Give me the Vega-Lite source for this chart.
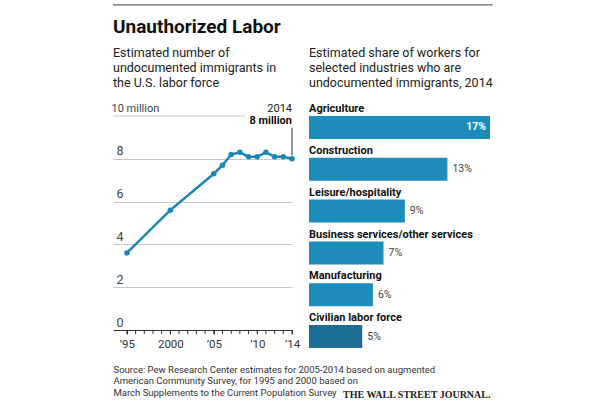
{
"$schema":"https://vega.github.io/schema/vega-lite/v6.json",
"background":"white",
"autosize":{"type":"pad"},
"padding":{"left":111,"top":4,"right":110,"bottom":0},
"bounds":"flush",
"spacing":17,
"config":{"view":{"stroke":null},"font":"Roboto","axisX":{"labelOverlap":false}},
"title":{"text":"Unauthorized Labor","anchor":"start","frame":"group","fontSize":19,"fontWeight":"bold","color":"#111","baseline":"alphabetic","offset":-48},
"hconcat":[
{
 "width":179,"height":232,
 "title":{"text":["Estimated number of","undocumented immigrants in","the U.S. labor force"],"anchor":"start","frame":"group","fontSize":12.5,"fontWeight":"normal","lineHeight":15,"color":"#222","offset":-85.5},
 "data":{"values":[
  {"year":1995,"millions":3.6},{"year":2000,"millions":5.6},{"year":2005,"millions":7.3},{"year":2006,"millions":7.7},
  {"year":2007,"millions":8.2},{"year":2008,"millions":8.3},{"year":2009,"millions":8.1},{"year":2010,"millions":8.1},
  {"year":2011,"millions":8.3},{"year":2012,"millions":8.1},{"year":2013,"millions":8.1},{"year":2014,"millions":8.0}
 ]},
 "layer":[
  {"transform":[{"filter":"datum.year==2014"}],
   "mark":{"type":"rule","color":"#444","strokeWidth":1},
   "encoding":{"x":{"datum":1993.4,"type":"quantitative"},"x2":{"datum":2037.1},"y":{"datum":15.19,"type":"quantitative"}}},
  {"transform":[{"filter":"datum.year==2014"}],
   "mark":{"type":"rule","color":"#c8c8c8","strokeWidth":1},
   "encoding":{"x":{"datum":1993.4,"type":"quantitative"},"x2":{"datum":2008.6},"y":{"datum":10,"type":"quantitative"}}},
  {"data":{"values":[{"tick":1995},{"tick":1996},{"tick":1997},{"tick":1998},{"tick":1999},{"tick":2000},{"tick":2001},{"tick":2002},{"tick":2003},{"tick":2004},{"tick":2005},{"tick":2006},{"tick":2007},{"tick":2008},{"tick":2009},{"tick":2010},{"tick":2011},{"tick":2012},{"tick":2013},{"tick":2014}]},
   "mark":{"type":"rule","color":"#333","strokeWidth":1},
   "encoding":{"x":{"field":"tick","type":"quantitative"},"y":{"datum":0,"type":"quantitative"},"y2":{"datum":-0.187}}},
  {"mark":{"type":"line","color":"#1a87b5","strokeWidth":2.5,"point":{"filled":true,"size":30,"color":"#1a87b5"}},
   "encoding":{
    "x":{"field":"year","type":"quantitative","scale":{"domain":[1993.4,2014],"nice":false,"zero":false},
     "axis":{"values":[1995,2000,2005,2010,2014],
      "labelExpr":"datum.value==1995?'’95':datum.value==2000?'2000':datum.value==2005?'’05':datum.value==2010?'’10':'’14'",
      "grid":false,"domainColor":"#333","tickColor":"#333","tickSize":4,"labelFontSize":11.5,"labelColor":"#333","labelPadding":4,"labelFlush":false,"labelOverlap":false,
      "title":["Source: Pew Research Center estimates for 2005-2014 based on augmented","American Community Survey, for 1995 and 2000 based on","March Supplements to the Current Population Survey"],
      "titleAnchor":"start","titleAlign":"left","titleX":0,"titleY":34,"titleBaseline":"top","titleFontSize":9.5,"titleFontWeight":"normal","titleColor":"#333","titleLineHeight":11.5}},
    "y":{"field":"millions","type":"quantitative","scale":{"domain":[0,10.84],"nice":false},
     "axis":{"values":[0,2,4,6,8,10],"labelExpr":"datum.value==10?'10 million':datum.label","title":null,"domain":false,"ticks":false,"tickSize":0,
      "grid":true,"gridColor":"#c8c8c8","gridOpacity":{"condition":{"test":"datum.value==10","value":0},"value":1},
      "labelAlign":"left","labelBaseline":"alphabetic","labelOffset":-4,"labelPadding":{"condition":{"test":"datum.value==10","value":2},"value":-3},
      "labelFontSize":{"condition":{"test":"datum.value==10","value":11},"value":12.5},"labelColor":"#444"}}
   }},
  {"transform":[{"filter":"datum.year==2014"}],
   "mark":{"type":"text","align":"right","baseline":"alphabetic","dy":-47,"fontSize":11,"color":"#222"},
   "encoding":{"x":{"field":"year","type":"quantitative"},"y":{"field":"millions","type":"quantitative"},"text":{"value":"2014"}}},
  {"transform":[{"filter":"datum.year==2014"}],
   "mark":{"type":"text","align":"right","baseline":"alphabetic","dy":-35,"fontSize":11,"fontWeight":"bold","color":"#111"},
   "encoding":{"x":{"field":"year","type":"quantitative"},"y":{"field":"millions","type":"quantitative"},"text":{"value":"8 million"}}},
  {"transform":[{"filter":"datum.year==2014"}],
   "mark":{"type":"rule","color":"#333","strokeWidth":1},
   "encoding":{"x":{"field":"year","type":"quantitative"},"y":{"datum":9.45,"type":"quantitative"},"y2":{"datum":8.15}}}
 ]
},
{
 "width":181,"height":251,
 "title":{"text":["Estimated share of workers for","selected industries who are","undocumented immigrants, 2014"],"anchor":"start","frame":"group","fontSize":12.5,"fontWeight":"normal","lineHeight":15,"color":"#222","offset":8.5},
 "data":{"values":[
  {"industry":"Agriculture","share":0.17},{"industry":"Construction","share":0.13},{"industry":"Leisure/hospitality","share":0.09},
  {"industry":"Business services/other services","share":0.07},{"industry":"Manufacturing","share":0.06},{"industry":"Civilian labor force","share":0.05}
 ]},
 "encoding":{"y":{"field":"industry","type":"nominal","sort":null,"axis":null,"scale":{"paddingInner":0,"paddingOuter":0}}},
 "layer":[
  {"mark":{"type":"bar","height":23},
   "encoding":{
    "x":{"field":"share","type":"quantitative","scale":{"domain":[0,0.17],"nice":false},
     "axis":{"domain":false,"ticks":false,"labels":false,"grid":false,"title":"THE WALL STREET JOURNAL.","titleFont":"Liberation Serif","titleFontWeight":"bold","titleFontSize":10,"titleColor":"#222","titleAnchor":"end","titleAlign":"right","titleX":181,"titleY":48,"titleBaseline":"alphabetic"}},
    "yOffset":{"value":29.4},
    "color":{"condition":{"test":"datum.industry=='Civilian labor force'","value":"#1b6e93"},"value":"#1c8cbb"}}},
  {"mark":{"type":"text","align":"left","baseline":"alphabetic","dy":-6.9,"fontWeight":"bold","fontSize":11,"color":"#111"},
   "encoding":{"x":{"datum":0,"type":"quantitative"},"text":{"field":"industry"}}},
  {"transform":[{"filter":"datum.share<0.15"}],
   "mark":{"type":"text","align":"left","baseline":"middle","dx":5,"dy":8.5,"fontSize":10.5,"color":"#444"},
   "encoding":{"x":{"field":"share","type":"quantitative"},"text":{"field":"share","format":".0%"}}},
  {"transform":[{"filter":"datum.share>=0.15"}],
   "mark":{"type":"text","align":"right","baseline":"middle","dx":-4,"dy":8.5,"fontSize":10.5,"fontWeight":"bold","color":"white"},
   "encoding":{"x":{"field":"share","type":"quantitative"},"text":{"field":"share","format":".0%"}}}
 ]
}
]
}
